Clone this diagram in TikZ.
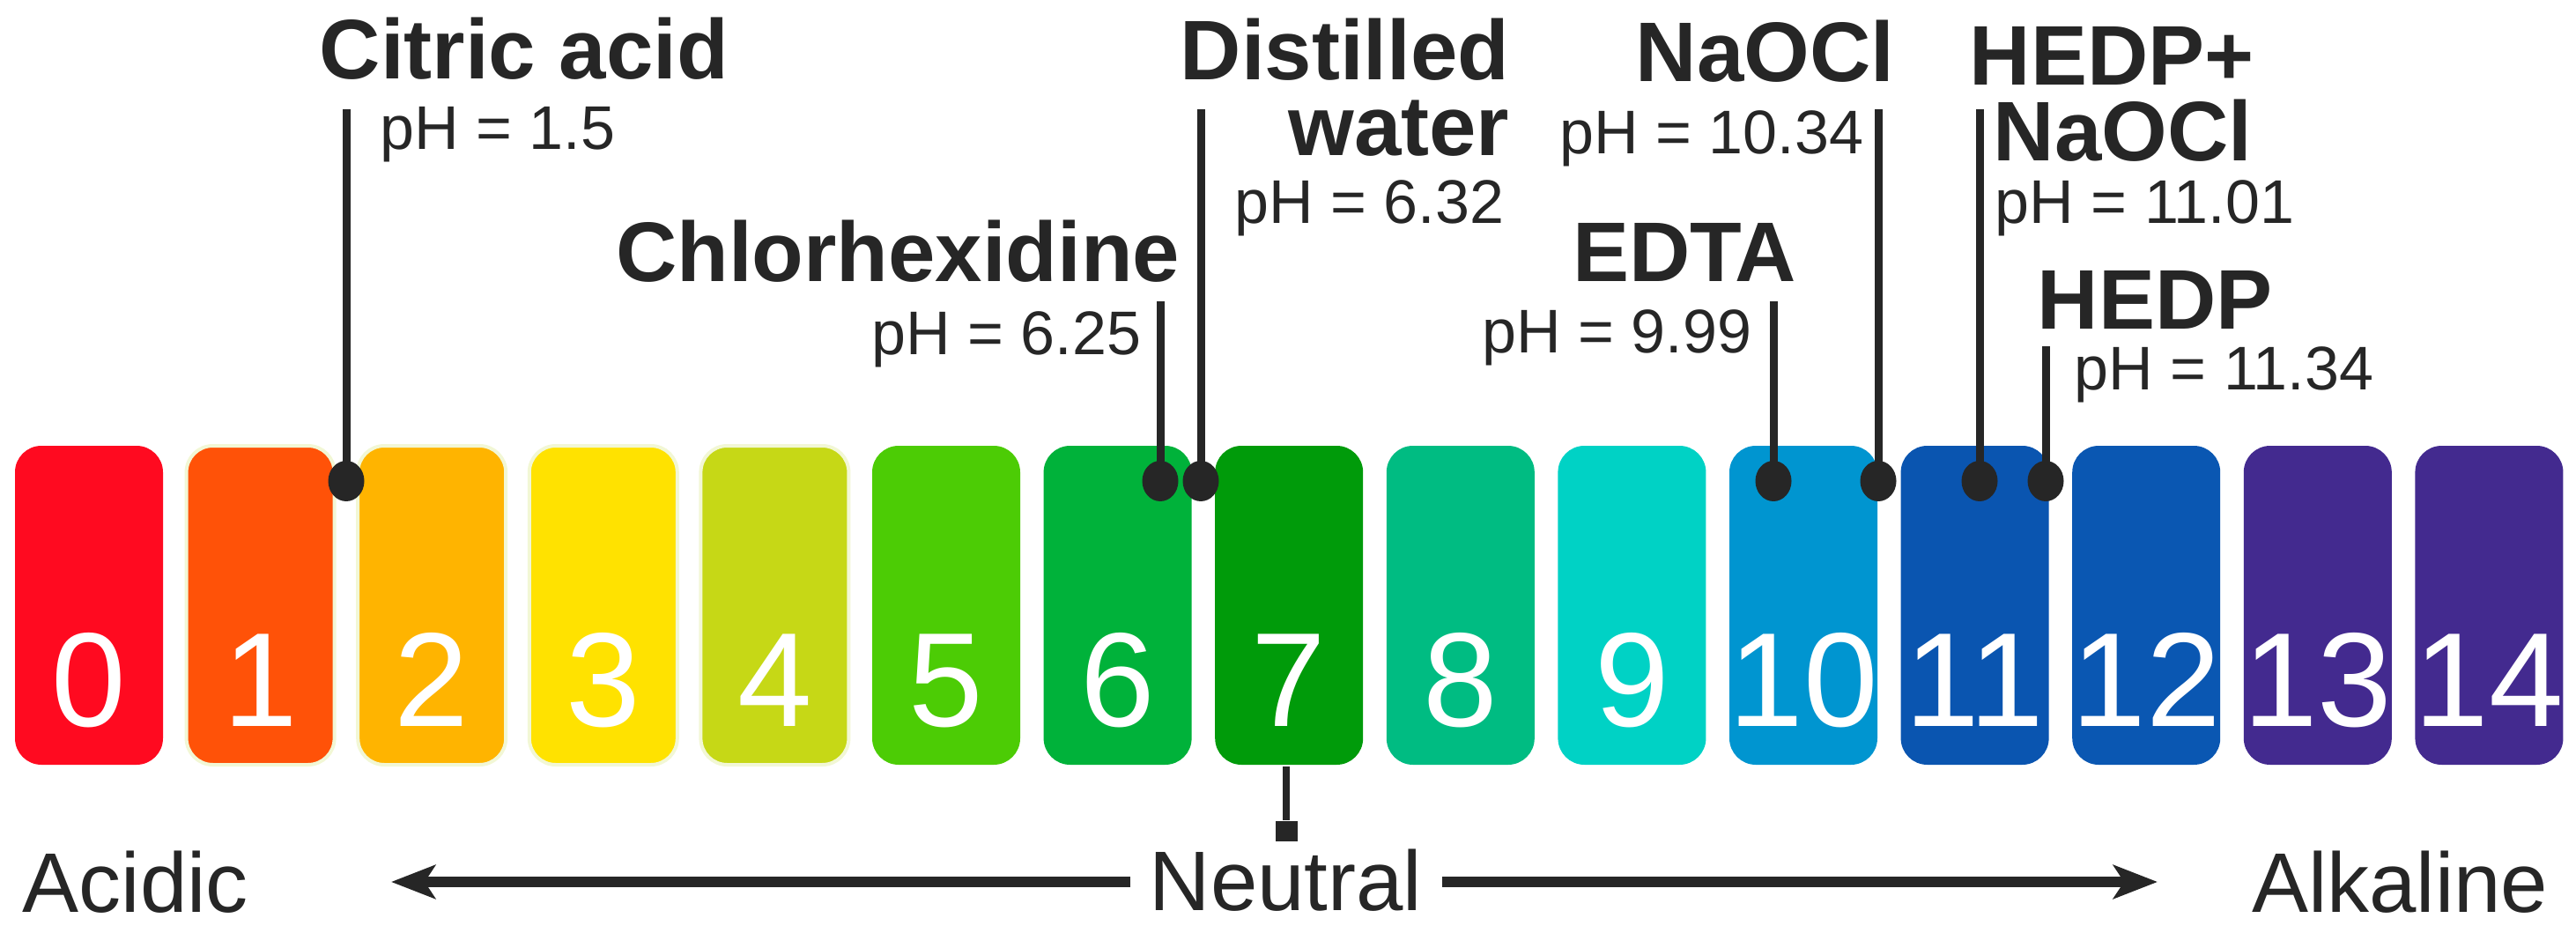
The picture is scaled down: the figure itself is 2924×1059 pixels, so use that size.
\documentclass[tikz,border=0pt]{standalone}
\usepackage{fontspec}
\setmainfont{Liberation Sans}
\usetikzlibrary{arrows.meta,calc,shapes.geometric}
\definecolor{ink}{HTML}{262626}
\definecolor{halo}{HTML}{F2F7D5}
\definecolor{c0}{HTML}{FF0A20}
\definecolor{c1}{HTML}{FF5208}
\definecolor{c2}{HTML}{FFB400}
\definecolor{c3}{HTML}{FFE200}
\definecolor{c4}{HTML}{C6D816}
\definecolor{c5}{HTML}{4CCC05}
\definecolor{c6}{HTML}{00B23A}
\definecolor{c7}{HTML}{009B0A}
\definecolor{c8}{HTML}{00BC82}
\definecolor{c9}{HTML}{00D2C5}
\definecolor{c10}{HTML}{0095D0}
\definecolor{c11}{HTML}{0A55B0}
\definecolor{c12}{HTML}{0A57B2}
\definecolor{c13}{HTML}{432A8F}
\definecolor{c14}{HTML}{432A8F}
\begin{document}
\begin{tikzpicture}[x=0.25pt,y=-0.25pt,
  blk/.style={rectangle, rounded corners=7.5pt, minimum width=42pt, minimum height=90.5pt, inner sep=0pt, line width=1pt},
  digit/.style={text=white, font=\fontsize{38pt}{40pt}\selectfont, inner sep=0pt, anchor=base},
  lbl/.style={font=\bfseries\fontsize{24pt}{28pt}\selectfont, text=ink, inner sep=0pt},
  phl/.style={font=\fontsize{17.5pt}{20pt}\selectfont, text=ink, inner sep=0pt},
  big/.style={font=\fontsize{24pt}{28pt}\selectfont, text=ink, inner sep=0pt},
  pinball/.style={ellipse, fill=ink, minimum width=10.25pt, minimum height=11.5pt, inner sep=0pt},
  lead/.style={draw=ink, line width=2.25pt},
  arr/.style={draw=ink, line width=3pt, -{Stealth[length=12.5pt, width=9.5pt, inset=3pt]}}
]
\useasboundingbox (0,0) rectangle (2924,1059);

% colour blocks and digits
\foreach \i/\h in {0/none,1/halo,2/halo,3/halo,4/halo,5/none,6/none,7/none,8/none,9/none,10/none,11/none,12/none,13/none,14/none}{
  \node[blk, fill=c\i, draw=\h] (b\i) at ({101+194.6*\i},687) {};
  \node[digit] (d\i) at ({101+194.6*\i},824) {\i};
}

% pins
\node[pinball] (p1) at (393,546) {};
\node[pinball] (p2) at (1317,546) {};
\node[pinball] (p3) at (1363,546) {};
\node[pinball] (p4) at (2013,546) {};
\node[pinball] (p5) at (2132,546) {};
\node[pinball] (p6) at (2247,546) {};
\node[pinball] (p7) at (2322,546) {};

% leader tops
\coordinate (t1) at (393,124);
\coordinate (t2) at (1317,342);
\coordinate (t3) at (1363,124);
\coordinate (t4) at (2013,342);
\coordinate (t5) at (2132,124);
\coordinate (t6) at (2247,124);
\coordinate (t7) at (2322,393);
\foreach \k in {1,...,7}{ \draw[lead] (t\k) -- (p\k.center); }

% labels
\node[lbl, anchor=base west] (citric) at (362,90) {Citric acid};
\node[phl, anchor=base west] (phcitric) at (431,170) {pH = 1.5};

\node[lbl, anchor=base east] (dist1) at (1714,91) {Distilled};
\node[lbl, anchor=base east] (dist2) at (1714,177) {water};
\node[phl, anchor=base east] (phdist) at (1708,253) {pH = 6.32};

\node[lbl, anchor=base east] (chx) at (1340,320) {Chlorhexidine};
\node[phl, anchor=base east] (phchx) at (1296,402) {pH = 6.25};

\node[lbl, anchor=base east] (naocl) at (2151,93) {NaOCl};
\node[phl, anchor=base east] (phnaocl) at (2116,175) {pH = 10.34};

\node[lbl, anchor=base east] (edta) at (2040,320) {EDTA};
\node[phl, anchor=base east] (phedta) at (1989,400) {pH = 9.99};

\node[lbl, anchor=base west] (mix1) at (2235,97) {HEDP+};
\node[lbl, anchor=base west] (mix2) at (2262,183) {NaOCl};
\node[phl, anchor=base west] (phmix) at (2264,253) {pH = 11.01};

\node[lbl, anchor=base west] (hedp) at (2312,373) {HEDP};
\node[phl, anchor=base west] (phhedp) at (2354,442) {pH = 11.34};

% bottom scale
\node[big, anchor=base west] (acid) at (25,1035) {Acidic};
\node[big, anchor=base west] (neu) at (1304,1033) {Neutral};
\node[big, anchor=base east] (alk) at (2893,1035) {Alkaline};

\node[fill=ink, minimum width=6.25pt, minimum height=5.75pt, inner sep=0pt] (sq) at (1460,943) {};
\draw[ink, line width=1.9pt] (sq.north |- b7.south) -- (sq.north);

\coordinate (la) at (1283,1001);
\coordinate (lt) at (444,1001);
\coordinate (ra) at (1637,1001);
\coordinate (rt) at (2449,1001);
\draw[arr] (la) -- (lt);
\draw[arr] (ra) -- (rt);
\end{tikzpicture}
\end{document}
